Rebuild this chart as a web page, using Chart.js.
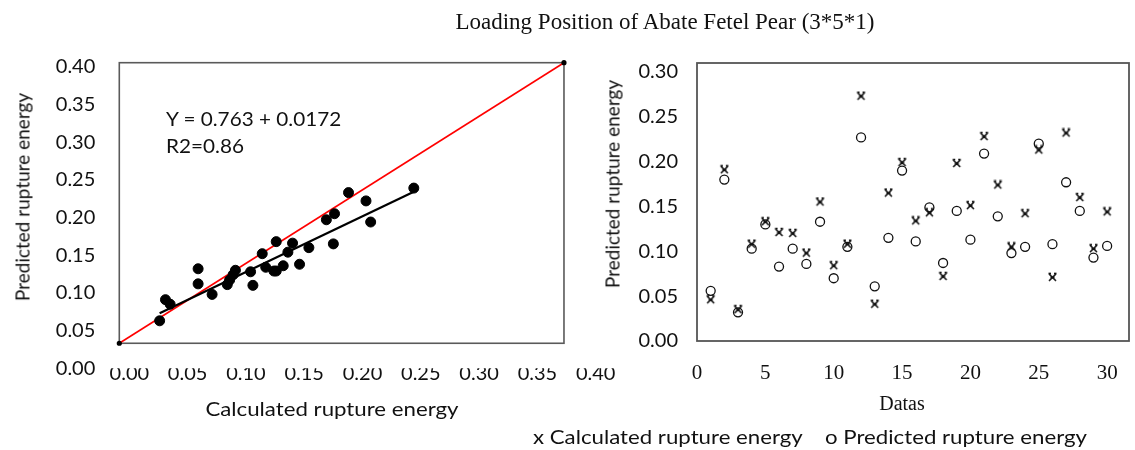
<!DOCTYPE html>
<html>
<head>
<meta charset="utf-8">
<script src="https://cdn.jsdelivr.net/npm/chart.js@4.4.1/dist/chart.umd.min.js"></script>
<style>
  body { margin: 0; background: #fff; width: 1135px; height: 450px; overflow: hidden; position: relative; }
  canvas { position: absolute; top: 0; }
  .txt { position: absolute; white-space: nowrap; color: #111; transform: translate(-50%, -50%); }
  .wide { transform: translate(-50%, -50%) scaleX(1.17); }
  .sans { font-family: 'Lato', sans-serif; font-size: 19px; }
  .serif { font-family: 'Liberation Serif', serif; font-size: 20px; }
  .rot { transform: translate(-50%, -50%) rotate(-90deg); }
</style>
</head>
<body>
<canvas id="fitChart" width="615" height="450" style="left:0"></canvas>
<canvas id="seqChart" width="535" height="450" style="left:600px"></canvas>

<div class="txt serif" style="left:665px; top:22px; font-size:23px;">Loading Position of Abate Fetel Pear (3*5*1)</div>
<div class="txt sans rot" style="left:22px; top:197px;">Predicted rupture energy</div>
<div class="txt sans wide" style="left:332px; top:408px;">Calculated rupture energy</div>
<div class="sans" style="position:absolute; left:166px; top:105px; line-height:27px; color:#111; transform-origin:0 0; transform:scaleX(1.09);">Y = 0.763 + 0.0172<br>R2=0.86</div>
<div class="txt sans rot" style="left:612px; top:184px;">Predicted rupture energy</div>
<div class="txt serif" style="left:902px; top:403px;">Datas</div>
<div class="txt sans wide" style="left:810px; top:436px;">x Calculated rupture energy&nbsp;&nbsp;&nbsp; o Predicted rupture energy</div>

<script>
// left panel: calculated vs predicted
const fitCalc = [0.026, 0.031, 0.035, 0.059, 0.059, 0.071, 0.084, 0.086, 0.089, 0.091, 0.104, 0.106, 0.114, 0.117,
  0.124, 0.126, 0.126, 0.132, 0.136, 0.140, 0.146, 0.154, 0.169, 0.176, 0.175, 0.188, 0.203, 0.207, 0.244];
const fitPred = [0.063, 0.091, 0.085, 0.132, 0.112, 0.098, 0.111, 0.117, 0.124, 0.130, 0.128, 0.110, 0.152, 0.134,
  0.129, 0.129, 0.168, 0.136, 0.154, 0.166, 0.138, 0.160, 0.197, 0.205, 0.165, 0.233, 0.222, 0.194, 0.239];
const trendX = [0.026, 0.244];
const trendY = [0.073, 0.234];
const diagX = [-0.0086, 0.3728];
const diagY = [0.0332, 0.4053];
const fitTicks = [0, 0.05, 0.10, 0.15, 0.20, 0.25, 0.30, 0.35, 0.40];

// right panel: per sample
const sampleNo = Array.from({ length: 30 }, (_, i) => i + 1);
const calcEnergy = [0.046, 0.191, 0.035, 0.108, 0.133, 0.121, 0.120, 0.098, 0.155, 0.084, 0.108, 0.273, 0.041, 0.165, 0.199,
  0.134, 0.143, 0.072, 0.198, 0.151, 0.228, 0.174, 0.105, 0.142, 0.213, 0.071, 0.232, 0.160, 0.103, 0.144];
const predEnergy = [0.056, 0.180, 0.032, 0.103, 0.130, 0.083, 0.103, 0.086, 0.133, 0.070, 0.105, 0.227, 0.061, 0.115, 0.190,
  0.111, 0.149, 0.087, 0.145, 0.113, 0.209, 0.139, 0.098, 0.105, 0.220, 0.108, 0.177, 0.145, 0.093, 0.106];
const seqXTicks = [0, 5, 10, 15, 20, 25, 30];
const seqYTicks = [0, 0.05, 0.10, 0.15, 0.20, 0.25, 0.30];

const sansFont = { family: 'Lato', size: 20 };
const serifFont = { family: 'Liberation Serif', size: 21 };

const pairs = (xs, ys) => xs.map((x, i) => ({ x, y: ys[i] }));

// box around the plotting region (optionally given in data units)
const framePlugin = {
  id: 'frame',
  beforeDatasetsDraw(chart, args, opts) {
    const { ctx, chartArea, scales } = chart;
    let l = chartArea.left, r = chartArea.right, t = chartArea.top, b = chartArea.bottom;
    if (opts.x) { l = scales.x.getPixelForValue(opts.x[0]); r = scales.x.getPixelForValue(opts.x[1]); }
    if (opts.y) { b = scales.y.getPixelForValue(opts.y[0]); t = scales.y.getPixelForValue(opts.y[1]); }
    ctx.save();
    ctx.strokeStyle = opts.color || '#555';
    ctx.lineWidth = opts.width || 1.5;
    ctx.strokeRect(l, t, r - l, b - t);
    ctx.restore();
  }
};

function fixedTicks(values) {
  return scale => { scale.ticks = values.map(v => ({ value: v })); };
}

function fixedSize(w, h) {
  return scale => {
    if (w != null) scale.width = w;
    if (h != null) scale.height = h;
    scale.paddingLeft = scale.paddingRight = scale.paddingTop = scale.paddingBottom = 0;
  };
}

// x-like marker with a small bar, as in the printed figure
function starMarker() {
  const c = document.createElement('canvas');
  c.width = 11; c.height = 11;
  const g = c.getContext('2d');
  g.strokeStyle = '#111';
  g.lineWidth = 1.6;
  g.beginPath();
  g.moveTo(2, 2); g.lineTo(9, 9);
  g.moveTo(9, 2); g.lineTo(2, 9);
  g.moveTo(3.5, 5.5); g.lineTo(7.5, 5.5);
  g.moveTo(1.5, 1.5); g.lineTo(4, 1.5);
  g.moveTo(7, 1.5); g.lineTo(9.5, 1.5);
  g.stroke();
  return c;
}

new Chart(document.getElementById('fitChart'), {
  type: 'scatter',
  data: {
    datasets: [
      {
        label: 'points',
        data: pairs(fitCalc, fitPred),
        backgroundColor: '#000',
        borderColor: '#000',
        pointRadius: 5,
        clip: false
      },
      {
        type: 'line',
        label: 'trend',
        data: pairs(trendX, trendY),
        borderColor: '#000',
        borderWidth: 2.2,
        pointRadius: 0,
        clip: false
      },
      {
        type: 'line',
        label: '1:1',
        data: pairs(diagX, diagY),
        borderColor: '#ff0000',
        borderWidth: 1.6,
        pointRadius: 1.8,
        pointBackgroundColor: '#000',
        pointBorderColor: '#000',
        clip: false
      }
    ]
  },
  options: {
    responsive: false,
    animation: false,
    layout: { padding: { top: 62.7, right: 15, bottom: 0, left: 0 } },
    plugins: {
      legend: { display: false },
      tooltip: { enabled: false },
      frame: { x: diagX, y: diagY, color: '#5a5a5a', width: 1.6 }
    },
    scales: {
      x: {
        type: 'linear',
        min: -0.0086,
        max: 0.4037,
        grid: { display: false, drawTicks: false },
        border: { display: false },
        afterBuildTicks: fixedTicks(fitTicks),
        afterFit: fixedSize(null, 81.7),
        ticks: { font: sansFont, color: '#111', padding: -7, maxRotation: 0, callback: v => v.toFixed(2) }
      },
      y: {
        type: 'linear',
        min: 0,
        max: 0.4053,
        grid: { display: false, drawTicks: false },
        border: { display: false },
        afterBuildTicks: fixedTicks(fitTicks),
        afterFit: fixedSize(119.3, null),
        ticks: { font: sansFont, color: '#111', padding: 24, callback: v => v.toFixed(2) }
      }
    }
  },
  plugins: [framePlugin]
});

new Chart(document.getElementById('seqChart'), {
  type: 'scatter',
  data: {
    datasets: [
      {
        label: 'Calculated rupture energy',
        data: pairs(sampleNo, calcEnergy),
        pointStyle: starMarker(),
        pointRadius: 5,
        clip: false
      },
      {
        label: 'Predicted rupture energy',
        data: pairs(sampleNo, predEnergy),
        pointStyle: 'circle',
        pointRadius: 4.5,
        borderWidth: 1.3,
        borderColor: '#111',
        backgroundColor: 'rgba(0,0,0,0)',
        clip: false
      }
    ]
  },
  options: {
    responsive: false,
    animation: false,
    layout: { padding: { top: 63, right: 3, bottom: 0, left: 0 } },
    plugins: {
      legend: { display: false },
      tooltip: { enabled: false },
      frame: { color: '#555', width: 1.8 }
    },
    scales: {
      x: {
        type: 'linear',
        min: 0,
        max: 31.6,
        grid: { display: false, drawTicks: false },
        border: { display: false },
        afterBuildTicks: fixedTicks(seqXTicks),
        afterFit: fixedSize(null, 109),
        ticks: { font: serifFont, color: '#111', padding: 20, maxRotation: 0 }
      },
      y: {
        type: 'linear',
        min: 0,
        max: 0.31,
        grid: { display: false, drawTicks: false },
        border: { display: false },
        afterBuildTicks: fixedTicks(seqYTicks),
        afterFit: fixedSize(97, null),
        ticks: { font: sansFont, color: '#111', padding: 19, callback: v => v.toFixed(2) }
      }
    }
  },
  plugins: [framePlugin]
});
</script>
</body>
</html>
